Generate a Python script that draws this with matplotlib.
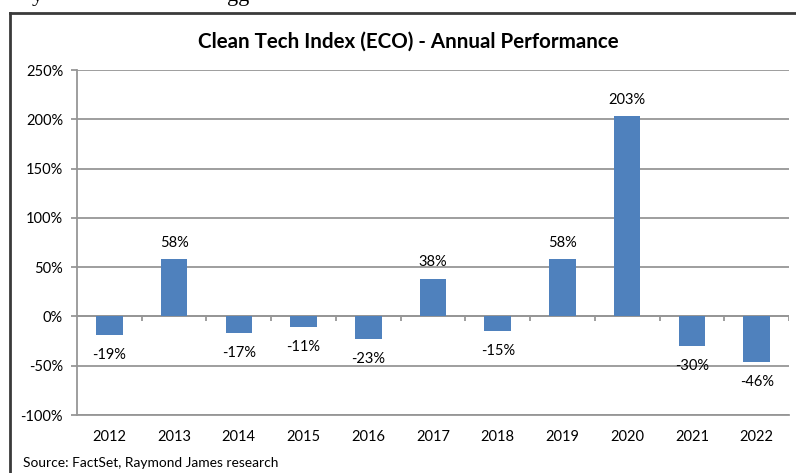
#!/usr/bin/env python3
"""Clean Tech Index (ECO) annual performance bar chart."""

import matplotlib
matplotlib.use('Agg')
import matplotlib.pyplot as plt
from matplotlib.lines import Line2D
import numpy as np

years = ['2012', '2013', '2014', '2015', '2016', '2017',
         '2018', '2019', '2020', '2021', '2022']
returns = [-19, 58, -17, -11, -23, 38, -15, 58, 203, -30, -46]
y_ticks = [-100, -50, 0, 50, 100, 150, 200, 250]

BAR_COLOR = '#4F81BD'
GRID_COLOR = '#969696'
TEXT_COLOR = '#000000'
FONT = ['Lato', 'DejaVu Sans']

plt.rcParams['font.family'] = FONT

fig = plt.figure(figsize=(7.96, 4.73), dpi=100)
ax = fig.add_axes([0.0967, 0.1226, 0.8945, 0.7294])

x = np.arange(len(years))
ax.bar(x, returns, width=0.41, color=BAR_COLOR, zorder=3)

# data labels
for xi, v in zip(x, returns):
    off = 12 if v >= 0 else -14.5
    ax.annotate(f'{v}%', (xi, v), xytext=(0, off), textcoords='offset points',
                ha='center', va='center', fontsize=10.5, color=TEXT_COLOR, zorder=4)

ax.set_xlim(-0.5, len(years) - 0.5)
ax.set_ylim(-100, 250)
ax.set_yticks(y_ticks)
ax.set_yticklabels([f'{t}%' for t in y_ticks])
ax.set_xticks(x)
ax.set_xticklabels(years)

ax.grid(axis='y', color=GRID_COLOR, linewidth=1.3, zorder=0)
ax.axhline(0, color=GRID_COLOR, linewidth=1.3, zorder=2)
# category separators on the zero line
ax.vlines(np.arange(0.5, len(years), 1), 0, -5, color=GRID_COLOR,
          linewidth=1.3, zorder=2)

for side in ['top', 'right']:
    ax.spines[side].set_visible(False)
for side in ['left', 'bottom']:
    ax.spines[side].set_color(GRID_COLOR)
    ax.spines[side].set_linewidth(1.3)

ax.tick_params(axis='y', length=4, width=1.3, color=GRID_COLOR, pad=6,
               labelsize=10.5, labelcolor=TEXT_COLOR)
ax.tick_params(axis='x', length=0, pad=11, labelsize=10.5, labelcolor=TEXT_COLOR)

fig.text(0.513, 0.912, 'Clean Tech Index (ECO) - Annual Performance',
         ha='center', va='center', fontsize=14.8, fontweight='bold', color=TEXT_COLOR)
fig.text(0.029, 0.021, 'Source: FactSet, Raymond James research',
         ha='left', va='center', fontsize=9.9, color=TEXT_COLOR)

# outer chart frame (cut off on the right and bottom)
frame = dict(color='#3a3a3a', linewidth=2, transform=fig.transFigure)
fig.add_artist(Line2D([0.0126, 0.0126], [0.0, 0.9725], **frame))
fig.add_artist(Line2D([0.0126, 1.0], [0.9725, 0.9725], **frame))

# descenders of the document text above the chart (cut off at the top edge)
fig.text(0.047, 0.998, 'y', ha='center', va='baseline', fontsize=16,
         family=['Liberation Serif'], color=TEXT_COLOR)
fig.text(0.299, 0.998, 'gg', ha='center', va='baseline', fontsize=16,
         family=['Liberation Serif'], color=TEXT_COLOR)

fig.savefig('out.png', dpi=100, facecolor='white')
